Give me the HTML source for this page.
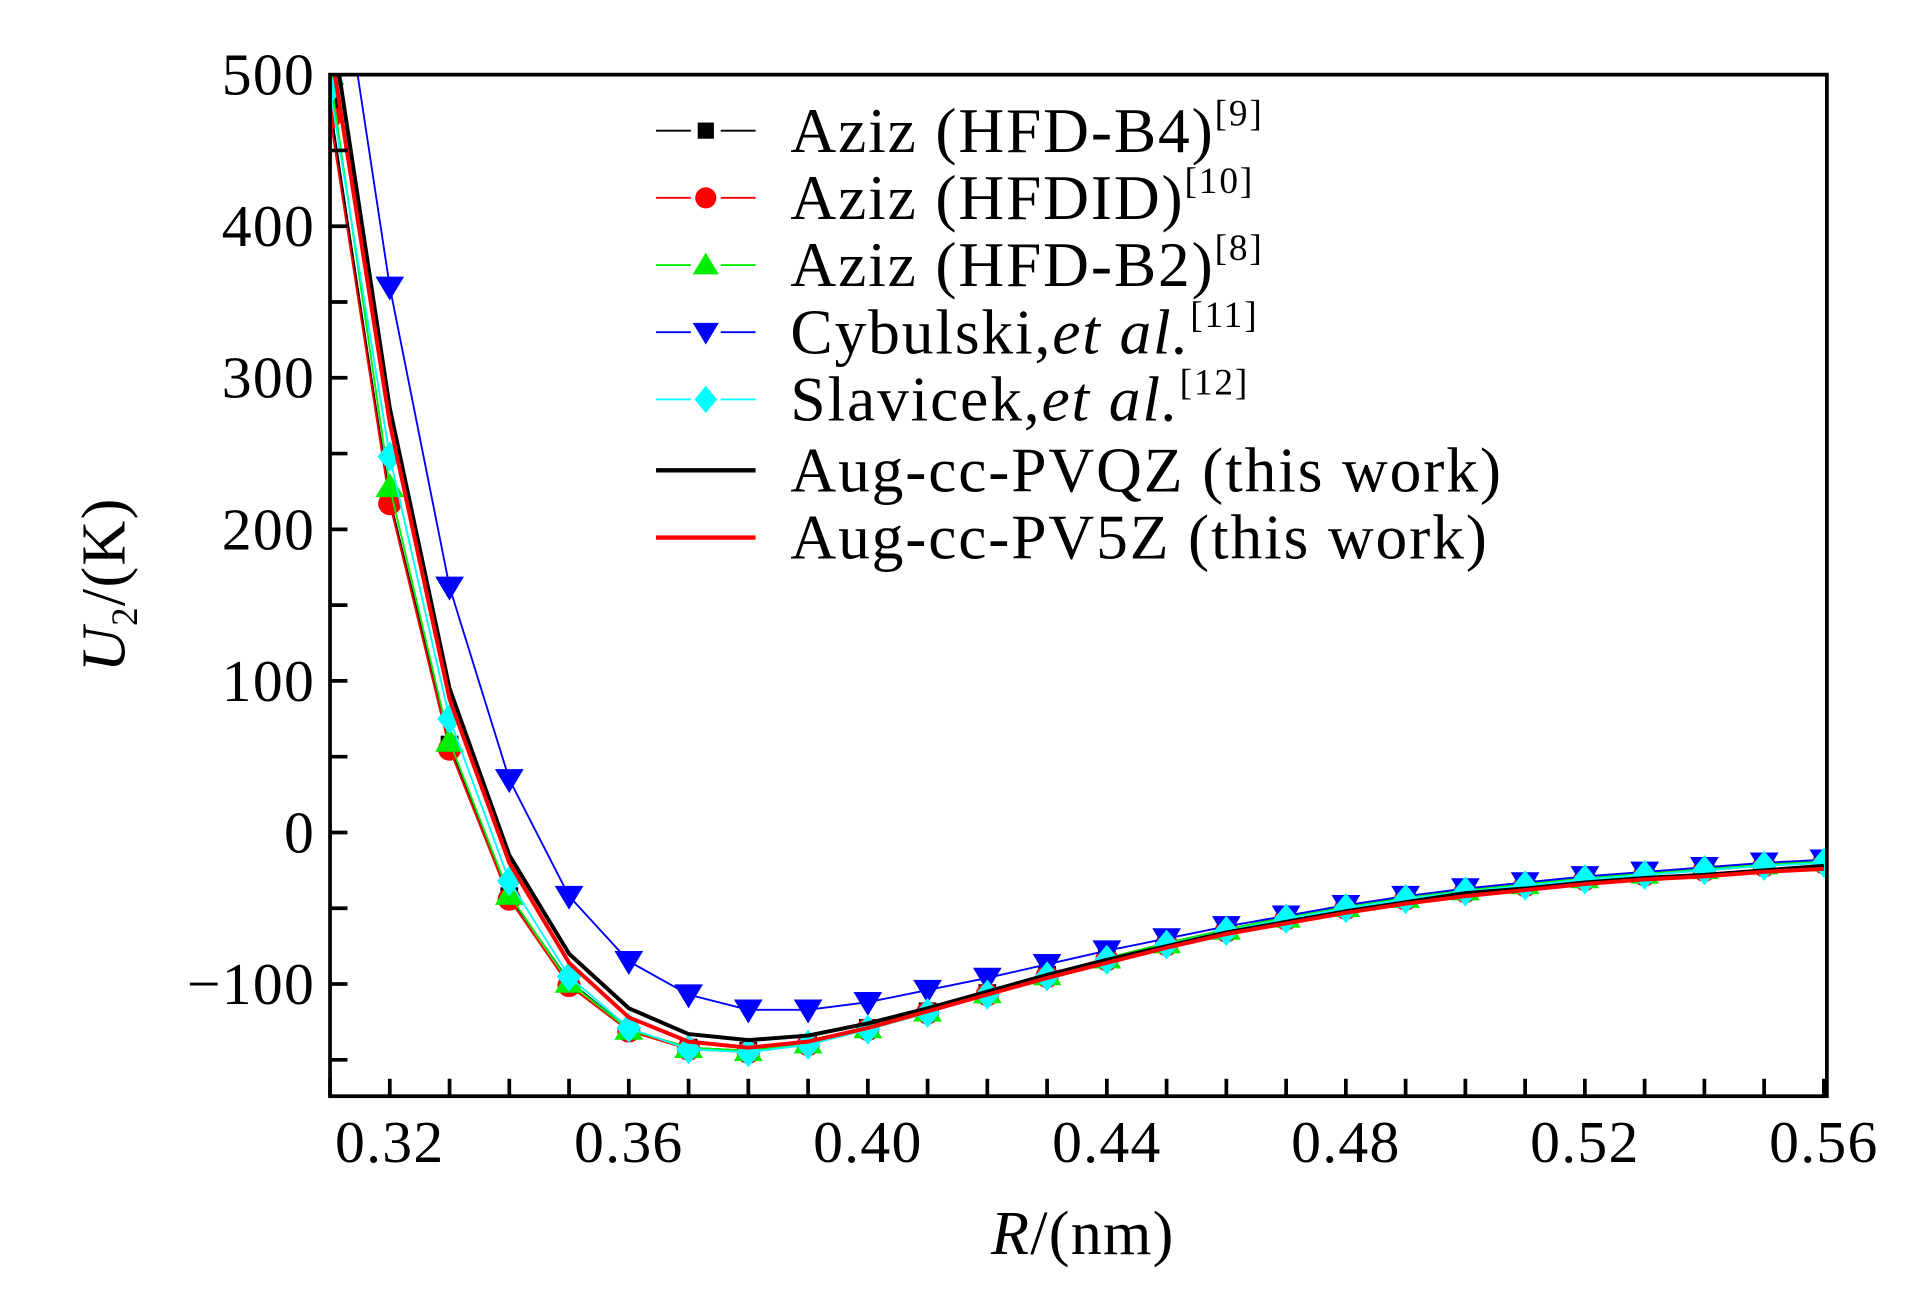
<!DOCTYPE html>
<html><head><meta charset="utf-8"><style>
html,body{margin:0;padding:0;background:#fff}
svg{display:block}
text{font-family:"Liberation Serif","DejaVu Serif",serif;fill:#000}
</style></head><body>
<svg id="chart" width="1923" height="1299" viewBox="0 0 1545 1044" xmlns="http://www.w3.org/2000/svg">
<defs><clipPath id="clip"><rect x="265" y="60" width="1203" height="821"/></clipPath></defs>
<g id="series" clip-path="url(#clip)"></g>
<g id="axes"></g>
<g id="legend"></g>
<text x="870" y="1008" font-size="50" text-anchor="middle" letter-spacing="1"><tspan font-style="italic">R</tspan>/(nm)</text>
<text transform="translate(100,470) rotate(-90)" font-size="50" text-anchor="middle" letter-spacing="1"><tspan font-style="italic">U</tspan><tspan font-size="30" dy="10">2</tspan><tspan dy="-10">/(K)</tspan></text>
</svg>
<script>
const rValues=[0.31,0.32,0.33,0.34,0.35,0.36,0.37,0.38,0.39,0.40,0.41,0.42,0.43,0.44,0.45,0.46,0.47,0.48,0.49,0.50,0.51,0.52,0.53,0.54,0.55,0.56];
const hfdB4=[480,220,58,-42,-98,-130,-142,-144,-139,-129,-118,-106,-94,-83,-73,-64,-56,-49,-43,-38,-34,-30,-27,-24,-21,-19];
const hfdid=[472,217,55,-44,-101,-131,-143,-145,-140,-130,-119,-107,-95,-84,-74,-65,-57,-50,-44,-39,-35,-31,-28,-25,-22,-20];
const hfdB2=[500,228,60,-41,-99,-130,-142,-144,-139,-129,-118,-106,-94,-83,-73,-64,-56,-49,-43,-38,-34,-30,-27,-24,-21,-19];
const cybulski=[620,360,162,35,-42,-85,-107,-117,-117,-112,-104,-96,-87,-78,-70,-62,-55,-48,-42,-37,-33,-29,-26,-23,-20,-18];
const slavicek=[490,248,75,-32,-95,-129,-143,-145,-140,-130,-119,-107,-95,-84,-74,-65,-57,-50,-44,-39,-35,-31,-28,-25,-22,-20];
const pvqz=[540,280,95,-15,-80,-116,-133,-137,-134,-126,-116,-105,-94,-84,-75,-66,-59,-52,-46,-40,-37,-33,-30,-28,-25,-22];
const pv5z=[520,270,88,-20,-86,-122,-138,-142,-138,-129,-118,-107,-96,-86,-76,-67,-60,-53,-47,-42,-38,-34,-31,-29,-26,-24];
const xTicks=[0.32,0.36,0.40,0.44,0.48,0.52,0.56];
const xTickLabels=["0.32","0.36","0.40","0.44","0.48","0.52","0.56"];
const yTicks=[500,400,300,200,100,0,-100];
const yTickLabels=["500","400","300","200","100","0","\u2212100"];

const NS="http://www.w3.org/2000/svg";
const L=265,R=1468,T=60,B=881;
const X0=0.31,X1=0.5605,Y0=-174,Y1=500;
function sx(v){return L+(v-X0)/(X1-X0)*(R-L);}
function sy(v){return B-(v-Y0)/(Y1-Y0)*(B-T);}
function mk(tag,attrs,parent){const e=document.createElementNS(NS,tag);for(const k in attrs)e.setAttribute(k,attrs[k]);parent.appendChild(e);return e;}
function marker(type,cx,cy,color,parent,s){
  s=s||11;let e;
  if(type==='square')e=mk('rect',{x:cx-s*0.65,y:cy-s*0.65,width:s*1.3,height:s*1.3,fill:color},parent);
  else if(type==='circle')e=mk('circle',{cx:cx,cy:cy,r:s*0.85,fill:color},parent);
  else if(type==='up')e=mk('polygon',{points:`${cx},${cy-s} ${cx-s*1.05},${cy+s*0.75} ${cx+s*1.05},${cy+s*0.75}`,fill:color},parent);
  else if(type==='down')e=mk('polygon',{points:`${cx},${cy+s} ${cx-s*1.05},${cy-s*0.75} ${cx+s*1.05},${cy-s*0.75}`,fill:color},parent);
  else e=mk('polygon',{points:`${cx},${cy-s*1.1} ${cx+s*0.9},${cy} ${cx},${cy+s*1.1} ${cx-s*0.9},${cy}`,fill:color},parent);
  return e;
}
const sg=document.getElementById('series');
const symSeries=[
 {name:'hfd-b4',vals:hfdB4,color:'#000',m:'square'},
 {name:'hfdid',vals:hfdid,color:'#ff0000',m:'circle'},
 {name:'hfd-b2',vals:hfdB2,color:'#00ee00',m:'up'},
 {name:'cybulski',vals:cybulski,color:'#0000ff',m:'down'},
 {name:'slavicek',vals:slavicek,color:'#00ffff',m:'diamond'}
];
symSeries.forEach(s=>{
  const g=mk('g',{},sg);
  
  
  const pl=mk('polyline',{points:rValues.map((r,i)=>sx(r)+','+sy(s.vals[i])).join(' '),fill:'none',stroke:s.color,'stroke-width':1.5},g);
  
  
  rValues.forEach((r,i)=>{
    const e=marker(s.m,sx(r),sy(s.vals[i]),s.color,g);
    
    
  });
});
[{name:'pvqz',vals:pvqz,color:'#000'},{name:'pv5z',vals:pv5z,color:'#ff0000'}].forEach(s=>{
  const pl=mk('polyline',{points:rValues.map((r,i)=>sx(r)+','+sy(s.vals[i])).join(' '),fill:'none',stroke:s.color,'stroke-width':3.2,'stroke-linejoin':'round'},sg);
  
  
});
const ag=document.getElementById('axes');
const frame=mk('rect',{x:L,y:T,width:R-L,height:B-T,fill:'none',stroke:'#000','stroke-width':3},ag);


for(let k=0;k<=25;k++){const v=0.31+k*0.01;if(v>X1)break;
  const t=mk('line',{x1:sx(v),x2:sx(v),y1:B,y2:B-14,stroke:'#000','stroke-width':3},ag);
  
  }
for(let v=-150;v<=450;v+=50){
  const t=mk('line',{x1:L,x2:L+14,y1:sy(v),y2:sy(v),stroke:'#000','stroke-width':3},ag);
  
  }
xTicks.forEach((v,i)=>{const t=mk('text',{x:sx(v),y:B+53,'font-size':48,'text-anchor':'middle','letter-spacing':1},ag);t.textContent=xTickLabels[i];
  
  });
yTicks.forEach((v,i)=>{const t=mk('text',{x:L-12,y:sy(v)+16,'font-size':48,'text-anchor':'end','letter-spacing':1},ag);t.textContent=yTickLabels[i];
  
  });
const lg=document.getElementById('legend');
const legItems=[
 {m:'square',c:'#000',t:'Aziz (HFD-B4)',sup:'[9]'},
 {m:'circle',c:'#ff0000',t:'Aziz (HFDID)',sup:'[10]'},
 {m:'up',c:'#00ee00',t:'Aziz (HFD-B2)',sup:'[8]'},
 {m:'down',c:'#0000ff',t:'Cybulski,',it:'et al.',sup:'[11]'},
 {m:'diamond',c:'#00ffff',t:'Slavicek,',it:'et al.',sup:'[12]'},
 {c:'#000',t:'Aug-cc-PVQZ (this work)'},
 {c:'#ff0000',t:'Aug-cc-PV5Z (this work)'}
];
const rowY=[105,159,213,267,321,378,432];
legItems.forEach((it,i)=>{
  const y=rowY[i];
  const g=mk('g',{},lg);
  
  
  if(it.m){
    mk('line',{x1:527,x2:555,y1:y,y2:y,stroke:it.c,'stroke-width':1.5},g);
    mk('line',{x1:579,x2:607,y1:y,y2:y,stroke:it.c,'stroke-width':1.5},g);
    marker(it.m,567,y,it.c,g,10);
  } else mk('line',{x1:527,x2:607,y1:y,y2:y,stroke:it.c,'stroke-width':3.5},g);
  const t=mk('text',{x:635,y:y+17,'font-size':51,'letter-spacing':1.5},g);
  let h=it.t;
  if(it.it)h+='<tspan font-style="italic">'+it.it+'</tspan>';
  if(it.sup)h+='<tspan font-size="30" dy="-21">'+it.sup+'</tspan>';
  t.innerHTML=h;
});
</script>
</body></html>
